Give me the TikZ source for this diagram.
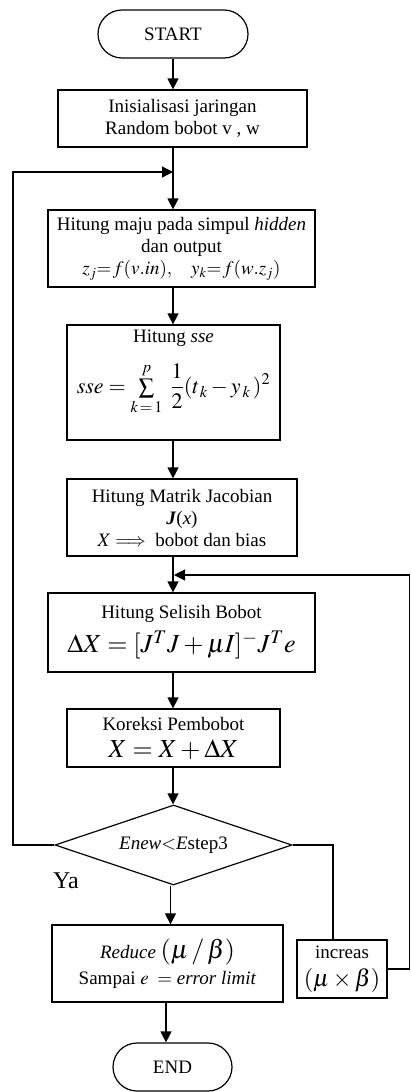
\documentclass[tikz,border=0pt]{standalone}
\usepackage{amsmath}
\usepackage{mathptmx}
\usepackage[no-math]{fontspec}
\setmainfont{Liberation Serif}
\usetikzlibrary{arrows.meta,shapes.geometric}
\newcommand{\nfont}{\fontsize{19}{22}\selectfont}
\newcommand{\bfontm}{\fontsize{26}{28}\selectfont}
\newcommand{\sfontm}{\fontsize{22}{24}\selectfont}
\begin{document}
\begin{tikzpicture}[x=1pt,y=-1pt,
  ln/.style={line width=1.2pt},
  arr/.style={ln,-{Triangle[length=11pt,width=11pt]}},
  box/.style={draw,ln,rectangle,align=center,inner sep=1pt,font=\nfont},
  term/.style={box,rounded corners=24pt},
  txt/.style={align=center,inner sep=0pt,font=\nfont},
  dec/.style={draw,ln,diamond,inner sep=0pt,aspect=2.96,font=\nfont}]
\useasboundingbox (0,0) rectangle (411,1092);
\node[term,minimum width=150pt,minimum height=48pt] (start) at (173,34) {START};
\node[box,minimum width=249pt,minimum height=57pt] (init) at (182.5,118.5) {Inisialisasi jaringan\\Random bobot v , w};
\node[box,minimum width=267pt,minimum height=77pt] (maju) at (181.5,248.5) {Hitung maju pada simpul \textit{hidden}\\dan output\\$z_j\mathit{=f(v.in),}\quad y_k\mathit{=f(w.}z_j)$};
\node[box,minimum width=213pt,minimum height=115pt] (sse) at (173.5,382.5) {};
\node[txt] (ssetitle) at (173.5,338) {Hitung \textit{sse}};
\node[txt,font=\sfontm] (sseform) at (173.5,389) {$\displaystyle \mathit{sse} = \mathop{\textstyle\sum}\limits_{k\,=\,1}^{p}\ \frac{1}{2}(t_{\,k} - y_{\,k}\,)^{2}$};
\node[box,minimum width=230pt,minimum height=77pt] (jac) at (182,517.5) {Hitung Matrik Jacobian\\\textbf{\textit{J}}(\textit{x})\\$X \Longrightarrow$\ \ bobot dan bias};
\node[box,minimum width=267pt,minimum height=79pt] (sel) at (181.5,632.5) {Hitung Selisih Bobot\\[7pt]{\bfontm $\Delta X = [J^{T} J + \mu I]^{-} J^{T} e$}};
\node[box,minimum width=213pt,minimum height=58pt] (kor) at (173.5,738) {Koreksi Pembobot\\[5pt]{\bfontm $X = X + \Delta X$}};
\node[dec,minimum width=237pt,minimum height=80pt] (dia) at (173.5,845) {\textit{Enew}$<$\textit{E}step3};
\node[box,minimum width=231pt,minimum height=77pt] (red) at (167.5,963.5) {\textit{Reduce} {\bfontm $(\mu\,/\,\beta)$}\\[4pt]Sampai $e\;=$ \textit{error limit}};
\node[box,minimum width=90pt,minimum height=58pt] (inc) at (342,969) {increas\\[6pt]{\fontsize{24}{26}\selectfont $(\mu\times\beta)$}};
\node[term,minimum width=119pt,minimum height=48pt] (end) at (172.5,1067) {END};
\node[font=\fontsize{24}{26}\selectfont] (ya) at (66,881) {Ya};
\coordinate (j1) at (173,172);
\coordinate (j2) at (174,575);
\coordinate (lx) at (13,0);
\coordinate (rx) at (409.5,0);
\coordinate (dx) at (333,0);
\draw[arr] (start) -- (start |- init.north);
\draw[ln] (init.south -| start) -- (j1);
\draw[arr] (j1) -- (j1 |- maju.north);
\draw[arr] (maju.south -| start) -- (sse.north -| start);
\draw[arr] (sse.south -| start) -- (jac.north -| start);
\draw[arr] (jac.south -| start) -- (sel.north -| start);
\draw[arr] (sel.south -| start) -- (kor.north -| start);
\draw[arr] (kor.south -| start) -- (dia.north -| start);
\draw[arr] ([xshift=-3pt]dia.south) -- ([xshift=-3pt]dia.south |- red.north);
\draw[arr] ([xshift=-1.5pt]red.south) -- ([xshift=-1.5pt]red.south |- end.north);
\draw[arr] (dia.west) -- (lx |- dia.west) -- (lx |- j1) -- (j1);
\draw[ln] (dia.east) -- (dx |- dia.east) -- (dx |- inc.north);
\draw[arr] (inc.east) -- (rx |- inc.east) -- (rx |- j2) -- (j2);
\end{tikzpicture}
\end{document}
